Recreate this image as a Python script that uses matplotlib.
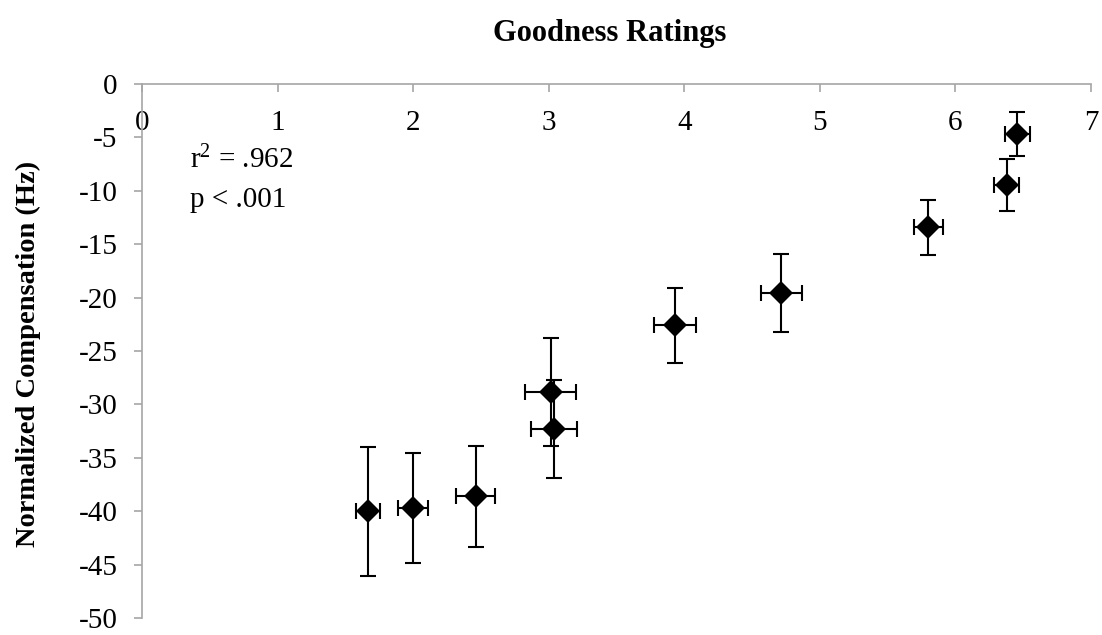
import numpy as np
import matplotlib
matplotlib.use("Agg")
import matplotlib.pyplot as plt

# ข้อมูลที่อ่านจากกราฟ
goodness = [1.665, 2.00, 2.46, 3.014, 3.04, 3.93, 4.717, 5.80, 6.38, 6.455]
goodness_err = [0.09, 0.11, 0.145, 0.19, 0.17, 0.157, 0.153, 0.108, 0.092, 0.092]
compensation = [-40.0, -39.7, -38.6, -28.85, -32.3, -22.6, -19.56, -13.43, -9.47, -4.67]
compensation_err = [6.05, 5.15, 4.75, 5.05, 4.6, 3.5, 3.65, 2.55, 2.46, 2.07]
x_ticks = [0, 1, 2, 3, 4, 5, 6, 7]
y_ticks = [0, -5, -10, -15, -20, -25, -30, -35, -40, -45, -50]
stats_text = ["r$^{\\mathrm{2}}$ = .962", "p < .001"]

plt.rcParams["font.family"] = ["Liberation Serif", "DejaVu Serif"]
plt.rcParams["mathtext.fontset"] = "custom"
plt.rcParams["mathtext.rm"] = "Liberation Serif"
plt.rcParams["mathtext.it"] = "Liberation Serif:italic"
plt.rcParams["axes.unicode_minus"] = False

axis_grey = "#a6a6a6"

fig = plt.figure(figsize=(11.02, 6.35), dpi=100)
ax = fig.add_axes([142 / 1102, 1 - 618 / 635, 949 / 1102, 534 / 635])

# แท่ง error ทั้งสองทิศ
ax.errorbar(goodness, compensation, xerr=goodness_err, yerr=compensation_err,
            fmt="none", ecolor="black", elinewidth=1.5, capsize=5.5, capthick=1.5)
# จุดรูปข้าวหลามตัด
ax.plot(goodness, compensation, "D", color="black", markersize=12.5,
        markeredgewidth=0, zorder=3)

ax.set_xlim(0, 7)
ax.set_ylim(-50, 0)
ax.set_xticks(x_ticks)
ax.set_yticks(y_ticks)

# แกน x อยู่ที่ y = 0 (ด้านบน)
ax.spines["bottom"].set_position(("data", 0))
ax.spines["top"].set_visible(False)
ax.spines["right"].set_visible(False)
for side in ["bottom", "left"]:
    ax.spines[side].set_color(axis_grey)
    ax.spines[side].set_linewidth(1.2)

ax.tick_params(axis="both", colors=axis_grey, labelcolor="black", length=5.5,
               width=1.2, labelsize=21)
ax.tick_params(axis="x", pad=13)
ax.tick_params(axis="y", pad=12)

ax.set_ylabel("Normalized Compensation (Hz)", fontsize=20.5, fontweight="bold")
ax.yaxis.set_label_coords(-0.106, 0.494)

fig.text(610 / 1102, 1 - 33 / 635, "Goodness Ratings", fontsize=22,
         fontweight="bold", ha="center", va="center")

ax.text(0.0506, 0.858, stats_text[0], transform=ax.transAxes, fontsize=21,
        va="center", ha="left")
ax.text(0.0506, 0.783, stats_text[1], transform=ax.transAxes, fontsize=21,
        va="center", ha="left")

fig.savefig("out.png", dpi=100)
